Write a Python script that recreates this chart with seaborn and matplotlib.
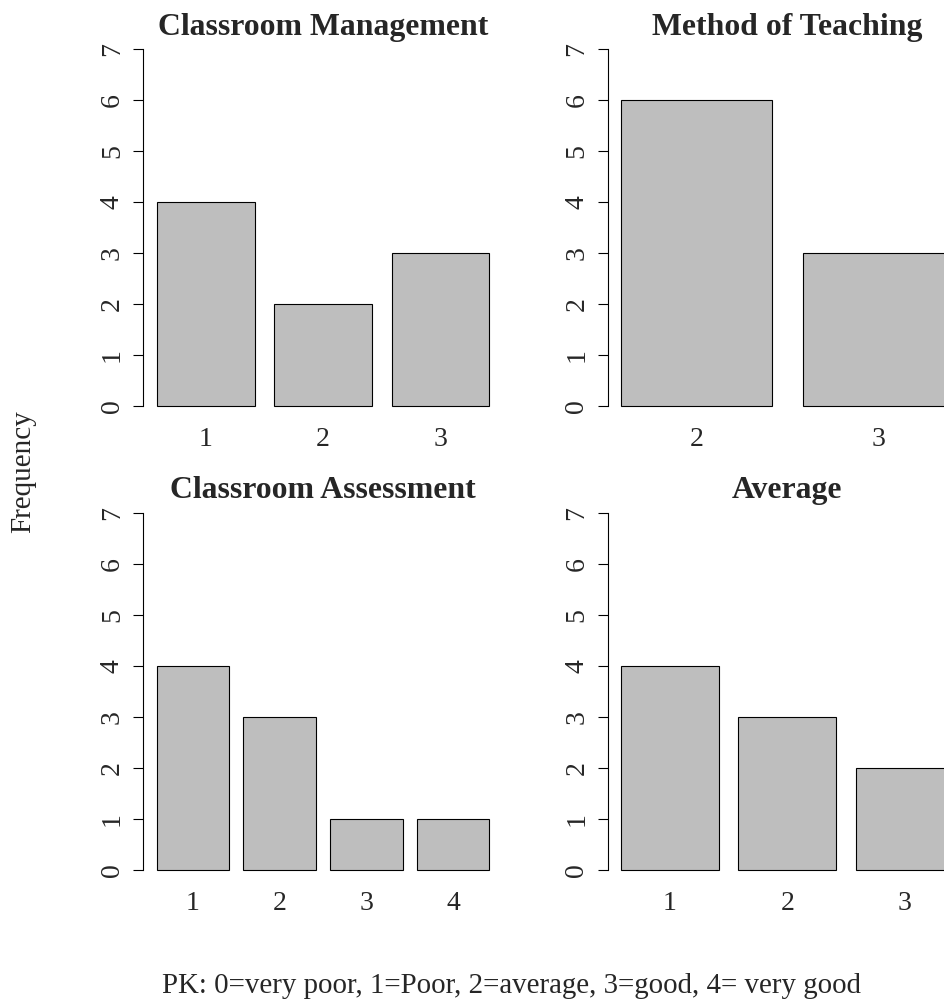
import matplotlib
matplotlib.use("Agg")
import matplotlib.pyplot as plt
import seaborn as sns
import pandas as pd

# Frequency counts per rating for each evaluation area
mgmt_levels = ["1", "2", "3"]
mgmt_counts = [4, 2, 3]

method_levels = ["2", "3"]
method_counts = [6, 3]

assess_levels = ["1", "2", "3", "4"]
assess_counts = [4, 3, 1, 1]

avg_levels = ["1", "2", "3"]
avg_counts = [4, 3, 2]

titles = ["Classroom Management", "Method of Teaching",
          "Classroom Assessment", "Average"]
y_ticks = [0, 1, 2, 3, 4, 5, 6, 7]
y_label = "Frequency"
caption = "PK: 0=very poor, 1=Poor, 2=average, 3=good, 4= very good"

sns.set_theme(style="white")
plt.rcParams["font.family"] = ["Liberation Serif", "DejaVu Serif"]

W, H = 944, 1001
fig = plt.figure(figsize=(W / 100, H / 100), dpi=100)

# panel boxes in pixels: (left, top, right, bottom)
panel_w = 359.5
boxes = [
    (143.3, 34.7, 143.3 + panel_w, 420.3),
    (607.7, 34.7, 607.7 + panel_w, 420.3),
    (143.3, 498.4, 143.3 + panel_w, 884.3),
    (607.7, 498.4, 607.7 + panel_w, 884.3),
]
panels = [
    (mgmt_levels, mgmt_counts),
    (method_levels, method_counts),
    (assess_levels, assess_counts),
    (avg_levels, avg_counts),
]

bar_w = 1 / 1.2
for (l, t, r, b), (levels, counts), title in zip(boxes, panels, titles):
    ax = fig.add_axes([l / W, 1 - b / H, (r - l) / W, (b - t) / H])
    df = pd.DataFrame({"level": levels, "count": counts})
    sns.barplot(data=df, x="level", y="count", order=levels, ax=ax,
                color="#BEBEBE", saturation=1, edgecolor="black",
                linewidth=0.8, width=bar_w)
    n = len(levels)
    span = 1.2 * n - 0.2
    lo_r = 0.2 - 0.04 * span
    hi_r = 1.2 * n + 0.04 * span
    ax.set_xlim((lo_r - 0.7) / 1.2, (hi_r - 0.7) / 1.2)
    ax.set_ylim(-0.28, 7.28)
    ax.set_yticks(y_ticks)
    ax.set_yticklabels([str(v) for v in y_ticks], rotation=90, va="center")
    for s in ["top", "right", "bottom"]:
        ax.spines[s].set_visible(False)
    ax.spines["left"].set_bounds(0, 7)
    ax.spines["left"].set_color("black")
    ax.spines["left"].set_linewidth(0.8)
    ax.tick_params(axis="y", left=True, length=7.2, width=0.8, color="black",
                   labelsize=20, pad=6)
    ax.tick_params(axis="x", bottom=False, length=0, labelsize=20, pad=4.5)
    ax.set_xlabel("")
    ax.set_ylabel("")
    ax.grid(False)
    ax.patch.set_alpha(0)
    ax.text(0.5, 1.0, title, transform=ax.transAxes, ha="center",
            va="baseline", fontsize=22.9, fontweight="bold")

fig.text(23 / W, 1 - 472 / H, y_label, rotation=90, ha="center",
         va="center", fontsize=21)
fig.text(512 / W, 1 - 993 / H, caption, ha="center", va="baseline",
         fontsize=20.8)

fig.savefig("out.png", dpi=100)
